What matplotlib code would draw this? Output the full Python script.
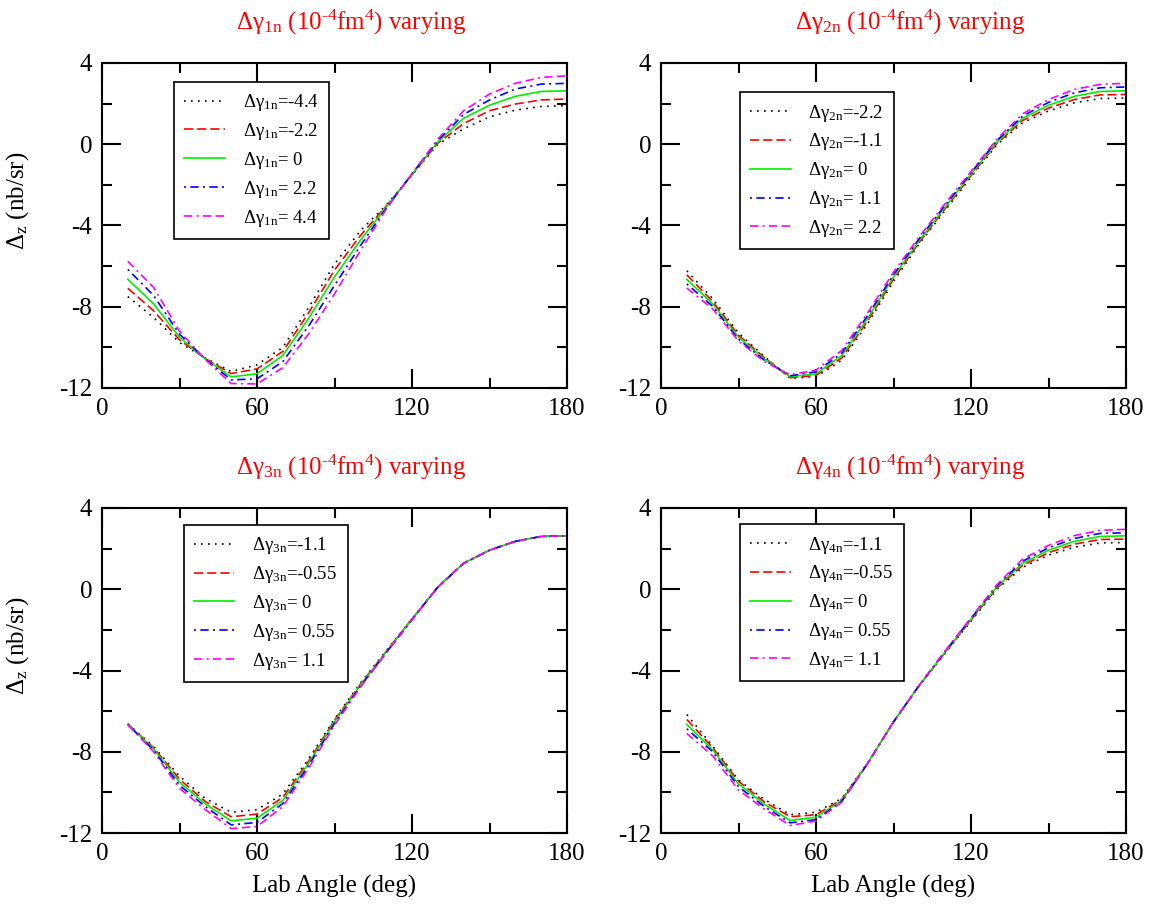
import matplotlib
matplotlib.use("Agg")
import matplotlib.pyplot as plt
from matplotlib.ticker import MultipleLocator

plt.rcParams['font.family'] = ['Liberation Serif', 'DejaVu Serif']
plt.rcParams['mathtext.fontset'] = 'custom'
plt.rcParams['mathtext.rm'] = 'Liberation Serif'
plt.rcParams['mathtext.it'] = 'Liberation Serif:italic'
plt.rcParams['mathtext.bf'] = 'Liberation Serif:bold'
plt.rcParams['axes.unicode_minus'] = False

angles = [10, 20, 30, 40, 50, 60, 70, 80, 90, 100, 110, 120, 130, 140, 150, 160, 170, 180]

# Panel 1: gamma_1n varying
p1_m44 = [-7.50, -8.53, -9.76, -10.53, -11.19, -10.86, -10.00, -8.04, -5.90, -4.26, -3.00, -1.52, 0.00, 0.76, 1.35, 1.68, 1.86, 1.90]
p1_m22 = [-7.09, -8.20, -9.63, -10.55, -11.29, -11.06, -10.20, -8.30, -6.20, -4.50, -3.05, -1.50, 0.05, 1.02, 1.65, 1.98, 2.18, 2.23]
p1_0 = [-6.65, -7.86, -9.50, -10.57, -11.45, -11.30, -10.40, -8.57, -6.53, -4.73, -3.09, -1.48, 0.11, 1.28, 1.92, 2.36, 2.60, 2.63]
p1_p22 = [-6.16, -7.45, -9.35, -10.58, -11.60, -11.55, -10.70, -8.95, -6.95, -5.00, -3.15, -1.46, 0.18, 1.47, 2.18, 2.72, 2.96, 3.00]
p1_p44 = [-5.76, -7.05, -9.20, -10.60, -11.78, -11.80, -11.00, -9.34, -7.37, -5.25, -3.20, -1.45, 0.25, 1.65, 2.47, 3.00, 3.29, 3.37]

# Panel 2: gamma_2n varying
p2_m22 = [-6.23, -7.60, -9.30, -10.45, -11.52, -11.45, -10.63, -8.83, -6.75, -4.90, -3.25, -1.62, -0.03, 1.06, 1.64, 2.04, 2.25, 2.27]
p2_m11 = [-6.43, -7.74, -9.40, -10.50, -11.50, -11.38, -10.52, -8.70, -6.64, -4.82, -3.17, -1.55, 0.04, 1.17, 1.78, 2.20, 2.43, 2.45]
p2_0 = [-6.65, -7.86, -9.50, -10.57, -11.45, -11.30, -10.40, -8.57, -6.53, -4.73, -3.09, -1.48, 0.11, 1.28, 1.92, 2.36, 2.60, 2.63]
p2_p11 = [-6.88, -7.98, -9.60, -10.63, -11.40, -11.20, -10.28, -8.43, -6.42, -4.64, -3.00, -1.41, 0.18, 1.39, 2.06, 2.53, 2.78, 2.82]
p2_p22 = [-7.08, -8.10, -9.68, -10.70, -11.35, -11.12, -10.15, -8.30, -6.30, -4.55, -2.92, -1.34, 0.25, 1.50, 2.20, 2.70, 2.95, 3.00]

# Panel 3: gamma_3n varying
p3_m11 = [-6.63, -7.75, -9.20, -10.30, -10.98, -10.85, -10.08, -8.35, -6.38, -4.63, -3.03, -1.45, 0.12, 1.28, 1.92, 2.36, 2.60, 2.63]
p3_m055 = [-6.64, -7.80, -9.35, -10.45, -11.20, -11.07, -10.25, -8.46, -6.45, -4.68, -3.06, -1.46, 0.11, 1.28, 1.92, 2.36, 2.60, 2.63]
p3_0 = [-6.65, -7.86, -9.50, -10.57, -11.40, -11.27, -10.40, -8.57, -6.53, -4.73, -3.09, -1.48, 0.11, 1.28, 1.92, 2.36, 2.60, 2.63]
p3_p055 = [-6.66, -7.93, -9.65, -10.70, -11.60, -11.48, -10.55, -8.68, -6.61, -4.78, -3.12, -1.50, 0.10, 1.28, 1.92, 2.36, 2.60, 2.63]
p3_p11 = [-6.67, -8.00, -9.80, -10.85, -11.78, -11.68, -10.70, -8.80, -6.70, -4.83, -3.15, -1.52, 0.10, 1.28, 1.92, 2.36, 2.60, 2.63]

# Panel 4: gamma_4n varying
p4_m11 = [-6.17, -7.72, -9.39, -10.35, -11.10, -10.98, -10.30, -8.55, -6.53, -4.75, -3.15, -1.57, 0.00, 1.08, 1.68, 2.07, 2.28, 2.30]
p4_m055 = [-6.41, -7.80, -9.45, -10.47, -11.20, -11.10, -10.35, -8.56, -6.53, -4.74, -3.12, -1.52, 0.05, 1.18, 1.80, 2.22, 2.45, 2.47]
p4_0 = [-6.65, -7.90, -9.58, -10.58, -11.38, -11.22, -10.40, -8.57, -6.53, -4.73, -3.09, -1.48, 0.11, 1.28, 1.92, 2.36, 2.60, 2.63]
p4_p055 = [-6.87, -8.00, -9.72, -10.70, -11.50, -11.34, -10.44, -8.58, -6.53, -4.72, -3.06, -1.44, 0.17, 1.38, 2.04, 2.50, 2.75, 2.78]
p4_p11 = [-7.10, -8.20, -9.88, -10.82, -11.63, -11.41, -10.48, -8.59, -6.53, -4.71, -3.03, -1.40, 0.22, 1.48, 2.16, 2.64, 2.90, 2.95]

labels1 = ['=-4.4', '=-2.2', '= 0', '= 2.2', '= 4.4']
labels2 = ['=-2.2', '=-1.1', '= 0', '= 1.1', '= 2.2']
labels3 = ['=-1.1', '=-0.55', '= 0', '= 0.55', '= 1.1']
labels4 = ['=-1.1', '=-0.55', '= 0', '= 0.55', '= 1.1']
subs = ['1n', '2n', '3n', '4n']

xticks = [0, 60, 120, 180]
yticks = [-12, -8, -4, 0, 4]

colors = ['black', '#ff0000', '#00ee00', '#0000ff', '#ff00ff']
styles = [(0, (1.0, 3.2)), (0, (5.5, 2.4)), '-', (0, (1.2, 2.6, 5.0, 2.6)), (0, (5.0, 2.6, 1.2, 2.6, 5.0, 2.6))]

panels = [
    ([p1_m44, p1_m22, p1_0, p1_p22, p1_p44], labels1),
    ([p2_m22, p2_m11, p2_0, p2_p11, p2_p22], labels2),
    ([p3_m11, p3_m055, p3_0, p3_p055, p3_p11], labels3),
    ([p4_m11, p4_m055, p4_0, p4_p055, p4_p11], labels4),
]

W, H = 1156, 905
fig = plt.figure(figsize=(W / 100, H / 100), dpi=100)

boxes = [(102, 63), (661, 63), (102, 508), (661, 508)]
aw, ah = 465, 325
legend_pos = [(0.155, 0.942), (0.17, 0.91), (0.176, 0.948), (0.17, 0.95)]

for i, ((series, labs), (x0, y0)) in enumerate(zip(panels, boxes)):
    ax = fig.add_axes([x0 / W, 1 - (y0 + ah) / H, aw / W, ah / H])
    for s, lab, c, ls in zip(series, labs, colors, styles):
        ax.plot(angles, s, color=c, linestyle=ls, linewidth=1.2,
                label='\u0394\u03b3$_{\\mathrm{' + subs[i] + '}}$' + lab)
    ax.set_xlim(0, 180)
    ax.set_ylim(-12, 4)
    ax.set_xticks(xticks)
    ax.set_yticks(yticks)
    ax.xaxis.set_minor_locator(MultipleLocator(30))
    ax.yaxis.set_minor_locator(MultipleLocator(2))
    ax.tick_params(which='both', direction='in', top=True, right=True, labelsize=18, width=1.5, pad=7)
    ax.tick_params(which='major', length=14)
    ax.tick_params(which='minor', length=7)
    for sp in ax.spines.values():
        sp.set_linewidth(1.5)
    ax.set_title('\u0394\u03b3$_{\\mathrm{' + subs[i] + '}}$ (10$^{\\text{-4}}$fm$^{4}$) varying',
                 color='#ff0000', fontsize=18, pad=24, x=0.535)
    if i % 2 == 0:
        ax.set_ylabel('\u0394$_{\\mathrm{z}}$ (nb/sr)', fontsize=18)
        ax.yaxis.set_label_coords(-0.152, 0.575)
    if i >= 2:
        ax.set_xlabel('Lab Angle (deg)', fontsize=18, labelpad=7)
    leg = ax.legend(loc='upper left', bbox_to_anchor=legend_pos[i], fontsize=13.5,
                    frameon=True, fancybox=False, edgecolor='black', framealpha=1,
                    handlelength=2.15, handletextpad=0.95, labelspacing=0.42,
                    borderpad=0.55, borderaxespad=0)
    leg.get_frame().set_linewidth(1.2)

fig.savefig('out.png', dpi=100)
